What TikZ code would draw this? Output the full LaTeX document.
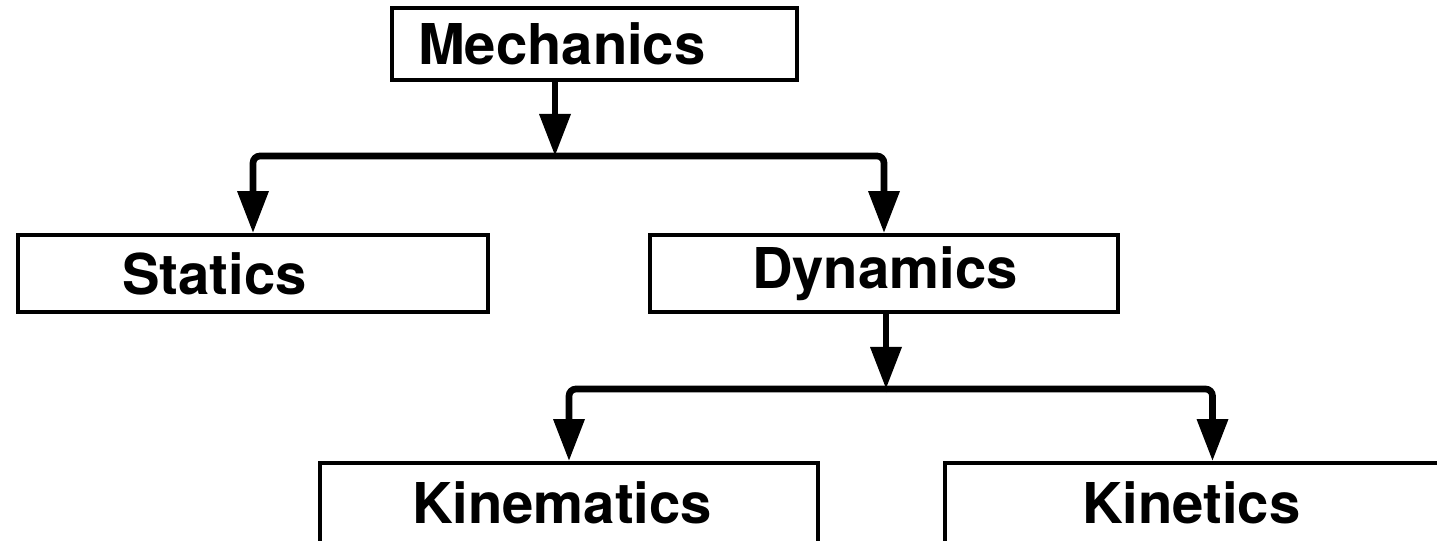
\documentclass[tikz,border=0pt]{standalone}
\usepackage{fontspec}
\setmainfont{TeX Gyre Heros}
\usepackage{tikz}
\usetikzlibrary{arrows.meta, positioning, calc}

\begin{document}
\begin{tikzpicture}[
    box/.style={rectangle, draw, line width=1.1pt, inner ysep=0pt, align=left, font=\fontsize{16}{19}\selectfont\bfseries},
    arrow/.style={-{Triangle[length=0.42cm, width=0.30cm]}, line width=1.9pt, rounded corners=2pt}
]

% Page frame
\clip (0,0) rectangle (14.37,-5.41);

% Top level
\node[box, text width=3.53cm, inner xsep=0.26cm, minimum height=0.72cm] (mech) at (5.945,-0.44) {Mechanics};

% Second level
\node[box, text width=2.62cm, inner xsep=1.04cm, minimum height=0.77cm] (stat) at (2.53,-2.735) {Statics};
\node[box, text width=2.64cm, inner xsep=1.02cm, minimum height=0.77cm] (dyn) at (8.84,-2.735) {Dynamics};

% Third level
\node[box, text width=3.14cm, inner xsep=0.92cm, minimum height=0.80cm] (kinem) at (5.69,-5.03) {Kinematics};
\node[box, text width=2.61cm, inner xsep=1.37cm, minimum height=0.80cm] (kinet) at (12.125,-5.03) {Kinetics};

% Branch points
\coordinate (j1) at (5.55,-1.56);
\coordinate (j2) at (8.86,-3.89);

% Mechanics -> Statics / Dynamics
\draw[arrow] (mech.south -| j1) -- (j1);
\draw[arrow] (j1) -| (stat.north);
\draw[arrow] (j1) -| (dyn.north);

% Dynamics -> Kinematics / Kinetics
\draw[arrow] (dyn.south -| j2) -- (j2);
\draw[arrow] (j2) -| (kinem.north);
\draw[arrow] (j2) -| (kinet.north);

\end{tikzpicture}
\end{document}
